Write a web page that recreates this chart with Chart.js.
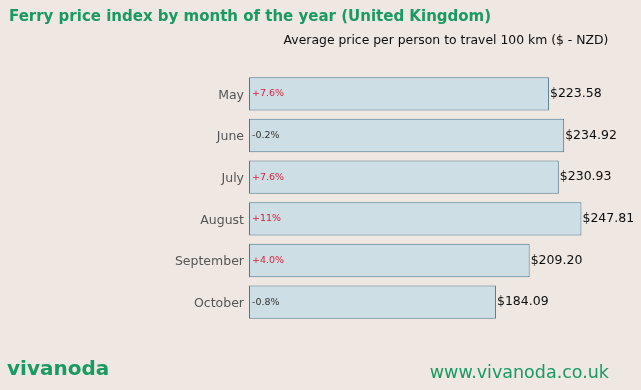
<!DOCTYPE html>
<html>
<head>
<meta charset="utf-8">
<script src="https://cdn.jsdelivr.net/npm/chart.js@4"></script>
<style>
  html, body { margin: 0; padding: 0; background: #efe7e1; }
  #wrap { width: 641px; height: 390px; position: relative; }
</style>
</head>
<body>
<div id="wrap"><canvas id="myChart"></canvas></div>
<script>
// data
const months = ['May', 'June', 'July', 'August', 'September', 'October'];
const prices = [223.58, 234.92, 230.93, 247.81, 209.20, 184.09];
const changes = ['+7.6%', '-0.2%', '+7.6%', '+11%', '+4.0%', '-0.8%'];

const titleText = 'Ferry price index by month of the year (United Kingdom)';
const subtitleText = 'Average price per person to travel 100 km ($ - NZD)';
const green = '#189a60';
const font = '"DejaVu Sans", sans-serif';

// draws the texts around the bars and the labels on them
const labelsPlugin = {
  id: 'labels',
  afterDatasetsDraw(chart) {
    const ctx = chart.ctx;
    const meta = chart.getDatasetMeta(0);
    ctx.save();
    ctx.textBaseline = 'middle';
    meta.data.forEach((bar, i) => {
      const left = bar.base;
      ctx.font = '9.5px ' + font;
      ctx.textAlign = 'left';
      ctx.fillStyle = changes[i].startsWith('+') ? '#dc1f3c' : '#333333';
      ctx.fillText(changes[i], left + 3, bar.y);

      ctx.font = '12.5px ' + font;
      ctx.fillStyle = '#0d0d0d';
      ctx.fillText('$' + prices[i].toFixed(2), bar.x + 1, bar.y);
    });

    // title
    ctx.textAlign = 'left';
    ctx.fillStyle = green;
    ctx.font = 'bold 15px ' + font;
    ctx.fillText(titleText, 9, 17);

    ctx.fillStyle = '#0d0d0d';
    ctx.font = '12.4px ' + font;
    ctx.textAlign = 'center';
    ctx.fillText(subtitleText, 446, 41);

    // footer
    ctx.textAlign = 'left';
    ctx.fillStyle = green;
    ctx.font = 'bold 20px ' + font;
    ctx.fillText('vivanoda', 7, 370);
    ctx.textAlign = 'right';
    ctx.font = '17.5px ' + font;
    ctx.fillText('www.vivanoda.co.uk', 609, 373);
    ctx.restore();
  },
};

const ctx = document.getElementById('myChart');

new Chart(ctx, {
  type: 'bar',
  data: {
    labels: months,
    datasets: [
      {
        data: prices,
        backgroundColor: '#cddee4',
        borderColor: '#4a7893',
        borderWidth: 1,
        borderSkipped: false,
        barPercentage: 1,
        categoryPercentage: 0.8,
      },
    ],
  },
  options: {
    indexAxis: 'y',
    responsive: true,
    maintainAspectRatio: false,
    animation: false,
    layout: {
      padding: { top: 73, bottom: 67, left: 0, right: 11 },
    },
    plugins: {
      legend: { display: false },
      title: { display: false },
      tooltip: { enabled: false },
    },
    scales: {
      x: {
        display: false,
        min: 0,
        max: 284,
      },
      y: {
        grid: { display: false, drawTicks: false },
        border: { display: false },
        ticks: {
          color: '#555555',
          font: { family: 'DejaVu Sans', size: 12.5 },
          padding: 5,
          labelOffset: 1.5,
        },
        afterFit: (scale) => {
          scale.width = 249;
        },
      },
    },
  },
  plugins: [labelsPlugin],
});
</script>
</body>
</html>
